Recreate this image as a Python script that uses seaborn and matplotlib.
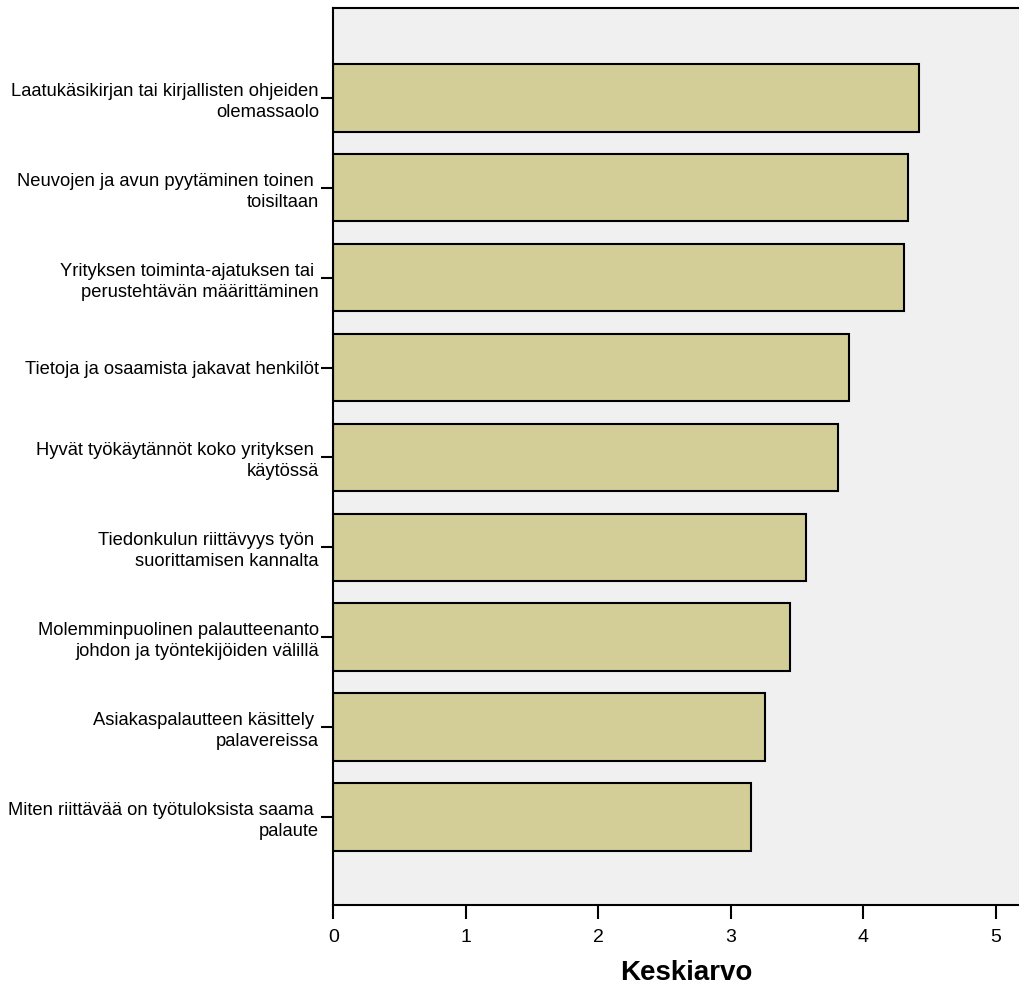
import matplotlib
matplotlib.use("Agg")
import matplotlib.pyplot as plt
import seaborn as sns
import pandas as pd

# Survey items (y categories) and their mean scores
items = [
    "Laatukäsikirjan tai kirjallisten ohjeiden\nolemassaolo",
    "Neuvojen ja avun pyytäminen toinen \ntoisiltaan",
    "Yrityksen toiminta-ajatuksen tai \nperustehtävän määrittäminen",
    "Tietoja ja osaamista jakavat henkilöt",
    "Hyvät työkäytännöt koko yrityksen \nkäytössä",
    "Tiedonkulun riittävyys työn \nsuorittamisen kannalta",
    "Molemminpuolinen palautteenanto\njohdon ja työntekijöiden välillä",
    "Asiakaspalautteen käsittely \npalavereissa",
    "Miten riittävää on työtuloksista saama \npalaute",
]
means = [4.42, 4.34, 4.31, 3.89, 3.81, 3.57, 3.45, 3.26, 3.15]
x_ticks = [0, 1, 2, 3, 4, 5]
x_title = "Keskiarvo"

df = pd.DataFrame({"item": items, "mean": means})

sns.set_theme(style="white")
plt.rcParams["font.family"] = ["Liberation Sans", "DejaVu Sans"]

fig = plt.figure(figsize=(10.2, 9.89), dpi=100)
ax = fig.add_axes([333.5 / 1020, 1 - 905 / 989, (1039.5 - 333.5) / 1020, (905 - 8) / 989])
ax.set_facecolor("#F0F0F0")

sns.barplot(data=df, x="mean", y="item", orient="h", color="#D3CE98",
            saturation=1, edgecolor="black", linewidth=1.5, width=0.75, ax=ax)

ax.set_xlim(0, 5.33)
ax.set_ylim(8.98, -1.0)
ax.set_xticks(x_ticks)
ax.set_xticklabels([str(t) for t in x_ticks])

ax.tick_params(axis="x", length=10, width=1.5, color="black", pad=7,
               labelsize=14, labelcolor="black", bottom=True)
ax.tick_params(axis="y", length=9, width=1.5, color="black", pad=1.5,
               labelsize=13.2, labelcolor="black", left=True)
for lbl in ax.get_yticklabels():
    lbl.set_linespacing(1.3)

for side in ["left", "bottom", "top"]:
    ax.spines[side].set_visible(True)
    ax.spines[side].set_color("black")
    ax.spines[side].set_linewidth(1.5)
ax.spines["right"].set_visible(False)

ax.set_ylabel("")
ax.set_xlabel(x_title, fontsize=20, fontweight="bold", color="black", labelpad=10)

fig.savefig("out.png", dpi=100, facecolor="white")
